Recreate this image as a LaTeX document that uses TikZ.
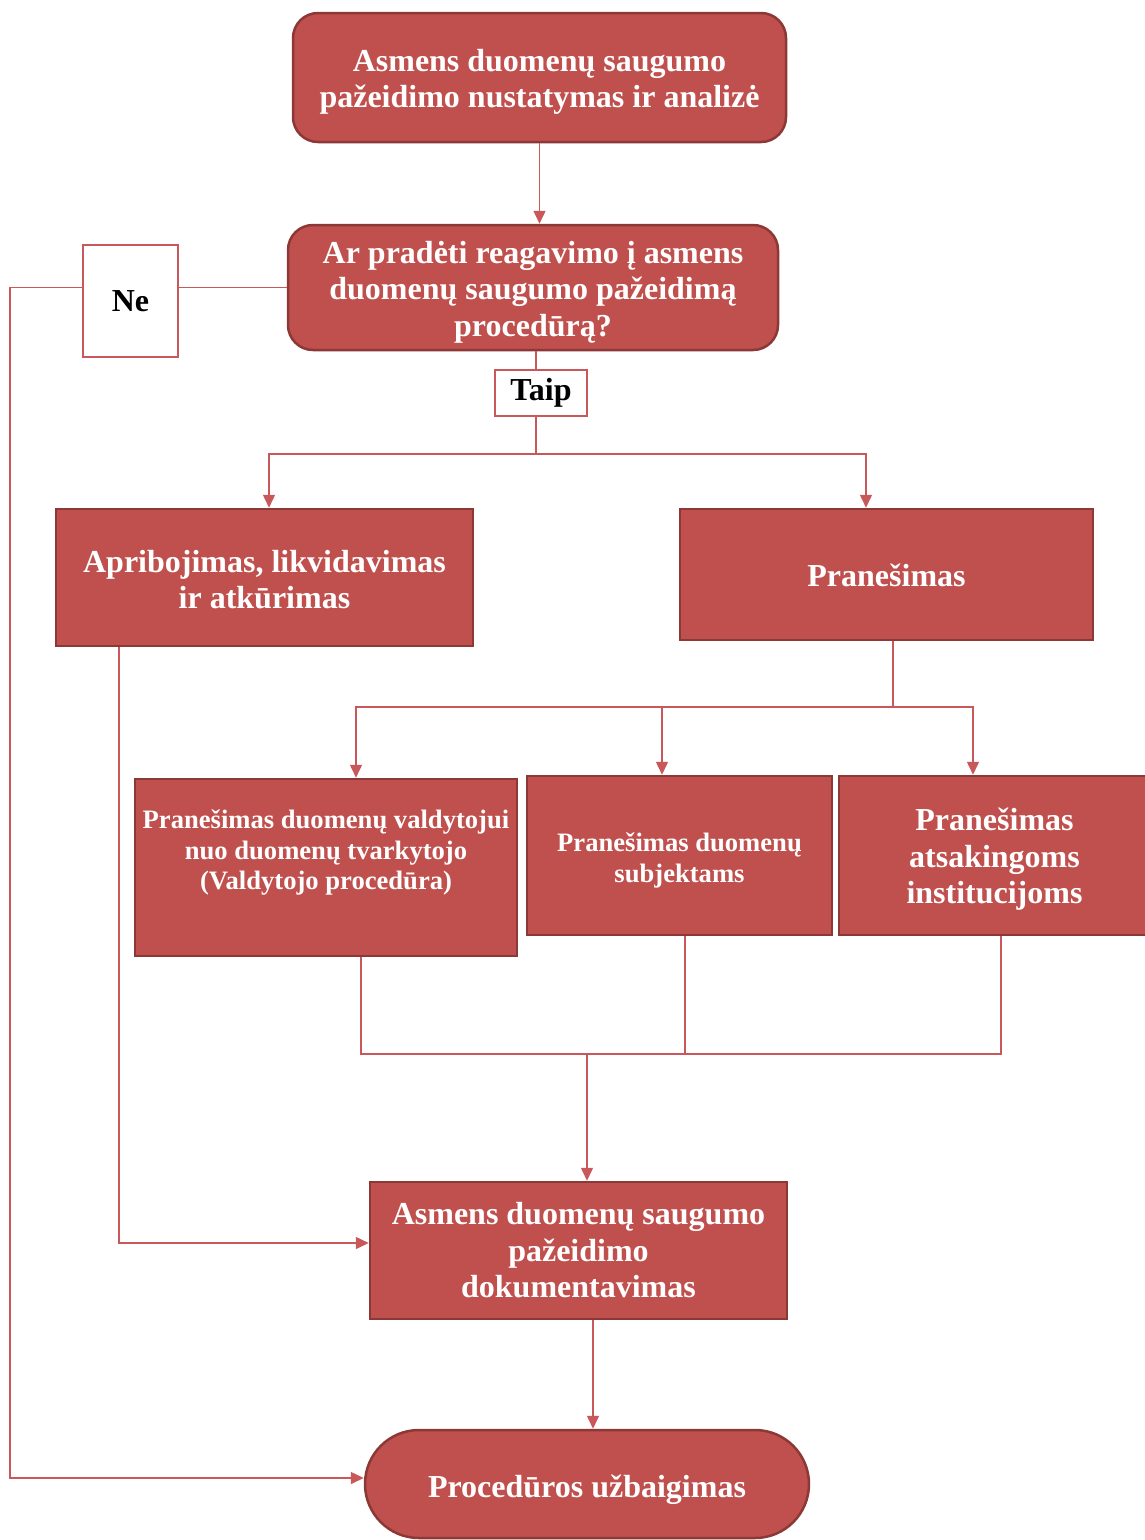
\documentclass[tikz,border=0pt]{standalone}
\usepackage{fontspec}
\setmainfont{Liberation Serif}
\usetikzlibrary{arrows.meta}
\definecolor{boxfill}{HTML}{C0504D}
\definecolor{boxline}{HTML}{8C3836}
\definecolor{connc}{HTML}{C9585A}
\begin{document}
\begin{tikzpicture}[x=1pt,y=-1pt,
  box/.style={draw=boxline, line width=2.5pt, fill=boxfill, inner sep=0pt},
  rbox/.style={box, rounded corners=25pt},
  bigtext/.style={text=white, font=\bfseries\fontsize{32}{36.5}\selectfont, align=center, inner sep=0pt},
  smalltext/.style={text=white, font=\bfseries\fontsize{26.6}{30.8}\selectfont, align=center, inner sep=0pt},
  tagbox/.style={draw=connc, line width=2.5pt, fill=white, text=black,
    font=\bfseries\fontsize{32}{36}\selectfont, inner sep=0pt},
  conn/.style={draw=connc, line width=1.5pt},
  arr/.style={conn, -{Triangle[length=13pt,width=12pt]}}
]
\useasboundingbox (0,0) rectangle (1145,1540);
\begin{scope}
\clip (0,0) rectangle (1145,1540);
\node[rbox, minimum width=493pt, minimum height=129pt] (b1) at (539.5,77.5) {};
\node[bigtext, yshift=-4.5pt] (b1t) at (b1.center)
  {Asmens duomenų saugumo\\pažeidimo nustatymas ir analizė};
\node[rbox, minimum width=490pt, minimum height=125pt] (b2) at (533,287.5) {};
\node[bigtext, yshift=-4.5pt] (b2t) at (b2.center)
  {Ar pradėti reagavimo į asmens\\duomenų saugumo pažeidimą\\procedūrą?};
\node[tagbox, minimum width=95pt, minimum height=112pt] (ne) at (130.5,301) {Ne};
\node[tagbox, minimum width=92pt, minimum height=46pt] (tp) at (541,393) {Taip};
\node[box, minimum width=417pt, minimum height=137pt] (b3) at (264.5,577.5) {};
\node[bigtext, yshift=-2pt] (b3t) at (b3.center)
  {Apribojimas, likvidavimas\\ir atkūrimas};
\node[box, minimum width=413pt, minimum height=131pt] (b4) at (886.5,574.5) {};
\node[bigtext, yshift=-1pt] (b4t) at (b4.center) {Pranešimas};
\node[box, minimum width=382pt, minimum height=177pt] (b5) at (326,867.5) {};
\node[smalltext] (b5t) at (326,852.5)
  {Pranešimas duomenų valdytojui\\nuo duomenų tvarkytojo\\(Valdytojo procedūra)};
\node[box, minimum width=305pt, minimum height=159pt] (b6) at (679.5,855.5) {};
\node[smalltext, yshift=-5pt] (b6t) at (b6.center)
  {Pranešimas duomenų\\subjektams};
\node[box, minimum width=311pt, minimum height=159pt] (b7) at (994.5,855.5) {};
\node[bigtext, yshift=-4pt] (b7t) at (b7.center)
  {Pranešimas\\atsakingoms\\institucijoms};
\node[box, minimum width=417pt, minimum height=137pt] (b8) at (578.5,1250.5) {};
\node[bigtext] (b8t) at (b8.center)
  {Asmens duomenų saugumo\\pažeidimo\\dokumentavimas};
\node[box, rounded corners=54pt, minimum width=444pt, minimum height=108pt] (b9) at (587,1484) {};
\node[bigtext, yshift=-6pt] (b9t) at (b9.center) {Procedūros užbaigimas};
\end{scope}

\coordinate (lft) at (10,287.5);
\coordinate (j1) at (536,454);
\coordinate (j2) at (893,707);
\coordinate (j3) at (587,1054);

\draw[arr] (b1.south) -- (b1.south |- b2.north);
\draw[conn] (b2.west) -- (b2.west -| ne.east);
\draw[arr] (ne.west |- b2.west) -- (lft) |- ([yshift=6pt]b9.west);
\draw[conn] (j1 |- b2.south) -- (j1 |- tp.north);
\draw[conn] (j1 |- tp.south) -- (j1);
\draw[arr] (j1) -| ([xshift=4.5pt]b3.north);
\draw[arr] (j1) -| ([xshift=-20.5pt]b4.north);
\draw[conn] (j2 |- b4.south) -- (j2);
\draw[arr] (j2) -| ([xshift=30pt]b5.north);
\draw[arr] (j2) -| ([xshift=-17.5pt]b6.north);
\draw[arr] (j2) -| ([xshift=-21.5pt]b7.north);
\draw[conn] ([xshift=35pt]b5.south) |- (j3);
\draw[conn] ([xshift=6.5pt]b7.south) |- (j3);
\draw[conn] ([xshift=5.5pt]b6.south) -- ([xshift=5.5pt]b6.south |- j3);
\draw[arr] (j3) -- (j3 |- b8.north);
\draw[arr] ([xshift=-145.5pt]b3.south) |- ([yshift=7.5pt]b8.west);
\draw[arr] ([xshift=14.5pt]b8.south) -- ([xshift=14.5pt]b8.south |- b9.north);
\end{tikzpicture}
\end{document}
